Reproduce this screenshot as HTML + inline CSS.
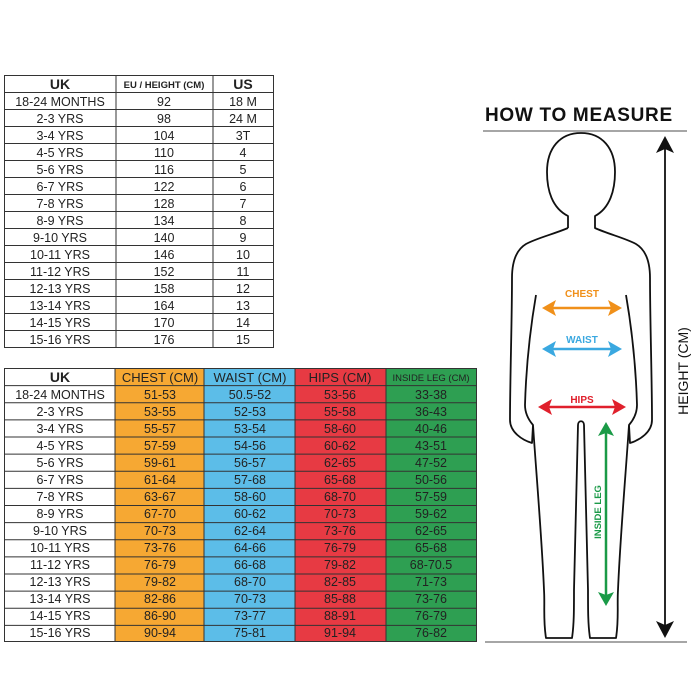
<!DOCTYPE html>
<html><head><meta charset="utf-8"><style>
body{margin:0;background:#fff}
svg{display:block}
text{font-family:"Liberation Sans",sans-serif;fill:#222}
</style></head><body>
<svg width="700" height="700" viewBox="0 0 700 700" xmlns="http://www.w3.org/2000/svg">
<!-- Top table -->
<g stroke="#333" stroke-width="1" fill="none">
<rect x="4.5" y="75.5" width="269" height="272"/>
<line x1="116" y1="75" x2="116" y2="348"/>
<line x1="213" y1="75" x2="213" y2="348"/>
</g>
<g stroke="#333" stroke-width="1">
<line x1="4" x2="274" y1="92.5" y2="92.5"/><line x1="4" x2="274" y1="109.5" y2="109.5"/><line x1="4" x2="274" y1="126.5" y2="126.5"/><line x1="4" x2="274" y1="143.5" y2="143.5"/><line x1="4" x2="274" y1="160.5" y2="160.5"/><line x1="4" x2="274" y1="177.5" y2="177.5"/><line x1="4" x2="274" y1="194.5" y2="194.5"/><line x1="4" x2="274" y1="211.5" y2="211.5"/><line x1="4" x2="274" y1="228.5" y2="228.5"/><line x1="4" x2="274" y1="245.5" y2="245.5"/><line x1="4" x2="274" y1="262.5" y2="262.5"/><line x1="4" x2="274" y1="279.5" y2="279.5"/><line x1="4" x2="274" y1="296.5" y2="296.5"/><line x1="4" x2="274" y1="313.5" y2="313.5"/><line x1="4" x2="274" y1="330.5" y2="330.5"/>
</g>
<g font-size="13" text-anchor="middle">
<text x="60" y="89" font-weight="bold" font-size="14">UK</text>
<text x="164" y="88" font-size="9.5" font-weight="bold">EU / HEIGHT (CM)</text>
<text x="243" y="89" font-weight="bold" font-size="14">US</text>
</g>
<g font-size="12.5" text-anchor="middle">
<text x="60" y="106">18-24 MONTHS</text><text x="164" y="106">92</text><text x="243" y="106">18 M</text>
<text x="60" y="123">2-3 YRS</text><text x="164" y="123">98</text><text x="243" y="123">24 M</text>
<text x="60" y="140">3-4 YRS</text><text x="164" y="140">104</text><text x="243" y="140">3T</text>
<text x="60" y="157">4-5 YRS</text><text x="164" y="157">110</text><text x="243" y="157">4</text>
<text x="60" y="174">5-6 YRS</text><text x="164" y="174">116</text><text x="243" y="174">5</text>
<text x="60" y="191">6-7 YRS</text><text x="164" y="191">122</text><text x="243" y="191">6</text>
<text x="60" y="208">7-8 YRS</text><text x="164" y="208">128</text><text x="243" y="208">7</text>
<text x="60" y="225">8-9 YRS</text><text x="164" y="225">134</text><text x="243" y="225">8</text>
<text x="60" y="242">9-10 YRS</text><text x="164" y="242">140</text><text x="243" y="242">9</text>
<text x="60" y="259">10-11 YRS</text><text x="164" y="259">146</text><text x="243" y="259">10</text>
<text x="60" y="276">11-12 YRS</text><text x="164" y="276">152</text><text x="243" y="276">11</text>
<text x="60" y="293">12-13 YRS</text><text x="164" y="293">158</text><text x="243" y="293">12</text>
<text x="60" y="310">13-14 YRS</text><text x="164" y="310">164</text><text x="243" y="310">13</text>
<text x="60" y="327">14-15 YRS</text><text x="164" y="327">170</text><text x="243" y="327">14</text>
<text x="60" y="344">15-16 YRS</text><text x="164" y="344">176</text><text x="243" y="344">15</text>
</g>

<!-- Bottom table -->
<rect x="115" y="368" width="89" height="274" fill="#f6a833"/>
<rect x="204" y="368" width="91" height="274" fill="#5cbde8"/>
<rect x="295" y="368" width="91" height="274" fill="#e73a43"/>
<rect x="386" y="368" width="91" height="274" fill="#2e9f52"/>
<g stroke="#333" stroke-width="1" fill="none">
<rect x="4.5" y="368.5" width="472" height="273"/>
<line x1="115" y1="368" x2="115" y2="642"/>
<line x1="204" y1="368" x2="204" y2="642"/>
<line x1="295" y1="368" x2="295" y2="642"/>
<line x1="386" y1="368" x2="386" y2="642"/>
</g>
<g stroke="#333" stroke-width="1">
<line x1="4" x2="477" y1="385.6" y2="385.6"/><line x1="4" x2="477" y1="402.7" y2="402.7"/><line x1="4" x2="477" y1="419.9" y2="419.9"/><line x1="4" x2="477" y1="437" y2="437"/><line x1="4" x2="477" y1="454.1" y2="454.1"/><line x1="4" x2="477" y1="471.2" y2="471.2"/><line x1="4" x2="477" y1="488.4" y2="488.4"/><line x1="4" x2="477" y1="505.5" y2="505.5"/><line x1="4" x2="477" y1="522.6" y2="522.6"/><line x1="4" x2="477" y1="539.7" y2="539.7"/><line x1="4" x2="477" y1="556.9" y2="556.9"/><line x1="4" x2="477" y1="574" y2="574"/><line x1="4" x2="477" y1="591.1" y2="591.1"/><line x1="4" x2="477" y1="608.2" y2="608.2"/><line x1="4" x2="477" y1="625.4" y2="625.4"/>
</g>
<g font-size="13" text-anchor="middle">
<text x="60" y="382" font-weight="bold" font-size="14">UK</text>
<text x="160" y="382">CHEST (CM)</text>
<text x="250" y="382">WAIST (CM)</text>
<text x="340" y="382">HIPS (CM)</text>
<text x="431" y="381" font-size="9.5">INSIDE LEG (CM)</text>
</g>
<g font-size="12.5" text-anchor="middle">
<text x="60" y="399">18-24 MONTHS</text><text x="160" y="399">51-53</text><text x="250" y="399">50.5-52</text><text x="340" y="399">53-56</text><text x="431" y="399">33-38</text>
<text x="60" y="416">2-3 YRS</text><text x="160" y="416">53-55</text><text x="250" y="416">52-53</text><text x="340" y="416">55-58</text><text x="431" y="416">36-43</text>
<text x="60" y="433">3-4 YRS</text><text x="160" y="433">55-57</text><text x="250" y="433">53-54</text><text x="340" y="433">58-60</text><text x="431" y="433">40-46</text>
<text x="60" y="450">4-5 YRS</text><text x="160" y="450">57-59</text><text x="250" y="450">54-56</text><text x="340" y="450">60-62</text><text x="431" y="450">43-51</text>
<text x="60" y="467">5-6 YRS</text><text x="160" y="467">59-61</text><text x="250" y="467">56-57</text><text x="340" y="467">62-65</text><text x="431" y="467">47-52</text>
<text x="60" y="484">6-7 YRS</text><text x="160" y="484">61-64</text><text x="250" y="484">57-68</text><text x="340" y="484">65-68</text><text x="431" y="484">50-56</text>
<text x="60" y="501">7-8 YRS</text><text x="160" y="501">63-67</text><text x="250" y="501">58-60</text><text x="340" y="501">68-70</text><text x="431" y="501">57-59</text>
<text x="60" y="518">8-9 YRS</text><text x="160" y="518">67-70</text><text x="250" y="518">60-62</text><text x="340" y="518">70-73</text><text x="431" y="518">59-62</text>
<text x="60" y="535">9-10 YRS</text><text x="160" y="535">70-73</text><text x="250" y="535">62-64</text><text x="340" y="535">73-76</text><text x="431" y="535">62-65</text>
<text x="60" y="552">10-11 YRS</text><text x="160" y="552">73-76</text><text x="250" y="552">64-66</text><text x="340" y="552">76-79</text><text x="431" y="552">65-68</text>
<text x="60" y="569">11-12 YRS</text><text x="160" y="569">76-79</text><text x="250" y="569">66-68</text><text x="340" y="569">79-82</text><text x="431" y="569">68-70.5</text>
<text x="60" y="586">12-13 YRS</text><text x="160" y="586">79-82</text><text x="250" y="586">68-70</text><text x="340" y="586">82-85</text><text x="431" y="586">71-73</text>
<text x="60" y="603">13-14 YRS</text><text x="160" y="603">82-86</text><text x="250" y="603">70-73</text><text x="340" y="603">85-88</text><text x="431" y="603">73-76</text>
<text x="60" y="620">14-15 YRS</text><text x="160" y="620">86-90</text><text x="250" y="620">73-77</text><text x="340" y="620">88-91</text><text x="431" y="620">76-79</text>
<text x="60" y="637">15-16 YRS</text><text x="160" y="637">90-94</text><text x="250" y="637">75-81</text><text x="340" y="637">91-94</text><text x="431" y="637">76-82</text>
</g>

<!-- How to measure -->
<text x="485" y="121" font-size="19" font-weight="bold" letter-spacing="0.7" style="fill:#111">HOW TO MEASURE</text>
<line x1="483" y1="131" x2="687" y2="131" stroke="#888" stroke-width="1.5"/>
<line x1="485" y1="642" x2="687" y2="642" stroke="#888" stroke-width="1.5"/>

<!-- body -->
<g fill="none" stroke="#111" stroke-width="1.8" stroke-linejoin="round">
<path d="M568 228 L568 216 C552 208 547 190 547 172 C547 148 560 133 581 133 C602 133 615 148 615 172 C615 190 610 208 595 216 L595 228 C608 234 625 238 636 244 C646 250 650 262 650 278 C650 320 652 380 652 420 C652 432 640 440 630 443 L629 425 C626 470 620 540 618 590 C617 605 619 620 616 638 L590 638 C588 625 588 610 588 590 L584 425 C584 420 578 420 578 425 L574 590 C574 610 574 625 572 638 L546 638 C543 620 545 605 544 590 C542 540 536 470 533 425 L532 443 C522 440 510 432 510 420 C510 380 512 320 512 278 C512 262 516 250 526 244 C537 238 554 234 568 228"/>
<path d="M533 425 C527 418 525 412 525 405 C526 370 530 330 536 295"/>
<path d="M629 425 C635 418 637 412 637 405 C636 370 632 330 626 295"/>
</g>

<!-- arrows -->
<g stroke-width="2.5">
<line x1="548" y1="308" x2="616" y2="308" stroke="#f0901a"/>
<line x1="548" y1="349" x2="616" y2="349" stroke="#3aa8e0"/>
<line x1="545" y1="407" x2="619" y2="407" stroke="#e0202c"/>
<line x1="606" y1="430" x2="606" y2="598" stroke="#1a9a47"/>
<line x1="665" y1="145" x2="665" y2="630" stroke="#111" stroke-width="1.8"/>
</g>
<polygon points="542,308 556,300 553,308 556,316" fill="#f0901a"/>
<polygon points="622,308 608,300 611,308 608,316" fill="#f0901a"/>
<polygon points="542,349 556,341 553,349 556,357" fill="#3aa8e0"/>
<polygon points="622,349 608,341 611,349 608,357" fill="#3aa8e0"/>
<polygon points="538,407 552,399 549,407 552,415" fill="#e0202c"/>
<polygon points="626,407 612,399 615,407 612,415" fill="#e0202c"/>
<polygon points="606,422 598,436 606,433 614,436" fill="#1a9a47"/>
<polygon points="606,606 598,592 606,595 614,592" fill="#1a9a47"/>
<polygon points="665,136 656,153 665,149 674,153" fill="#111"/>
<polygon points="665,638 656,621 665,625 674,621" fill="#111"/>
<g font-size="10" font-weight="bold" text-anchor="middle">
<text x="582" y="297" style="fill:#f0901a">CHEST</text>
<text x="582" y="343" style="fill:#3aa8e0">WAIST</text>
<text x="582" y="403" style="fill:#e0202c">HIPS</text>
<text transform="translate(601,512) rotate(-90)" font-size="9.5" style="fill:#1a9a47">INSIDE LEG</text>
</g>
<text transform="translate(688,371) rotate(-90)" font-size="14" text-anchor="middle" style="fill:#111">HEIGHT (CM)</text>
</svg>
</body></html>
